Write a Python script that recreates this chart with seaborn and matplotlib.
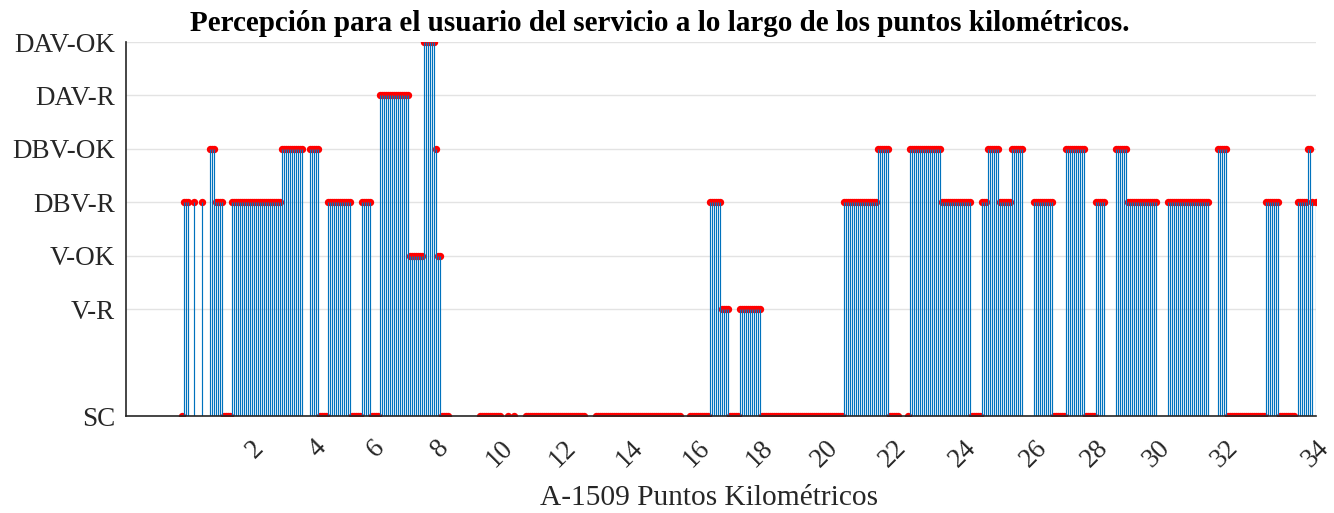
import numpy as np
import pandas as pd
import matplotlib
matplotlib.use('Agg')
import matplotlib.pyplot as plt
import seaborn as sns

# niveles de percepcion (eje y)
level_names = ['SC', 'V-R', 'V-OK', 'DBV-R', 'DBV-OK', 'DAV-R', 'DAV-OK']
level_values = [0, 2, 3, 4, 5, 6, 7]

# secuencia de muestras codificada por tramos: nivel y numero de muestras (nan = sin dato)
run_levels = [0, 4, np.nan, 4, np.nan, 4, np.nan, 5, 4, 0,
              4, 5, np.nan, 5, 0, 4, 0, 4, 0, 6,
              3, 7, 5, 3, 0, np.nan, 0, np.nan, 0, np.nan,
              0, np.nan, 0, np.nan, 0, np.nan, 0, 4, 2, 0,
              2, 0, 4, 5, 0, np.nan, 0, 5, 4, 0,
              4, 5, 4, 5, np.nan, 4, 0, 5, 0, 4,
              np.nan, 5, 4, np.nan, 4, np.nan, 5, 0, 4, 0,
              np.nan, 4, 5, 4, np.nan, 4]
run_counts = [1, 3, 2, 1, 3, 1, 3, 3, 4, 4,
              25, 11, 3, 5, 4, 12, 5, 5, 4, 15,
              7, 6, 1, 2, 4, 15, 11, 3, 1, 2,
              1, 5, 30, 5, 43, 4, 10, 6, 4, 5,
              11, 41, 17, 6, 5, 4, 1, 16, 15, 5,
              3, 6, 6, 6, 5, 10, 6, 10, 5, 5,
              5, 6, 15, 5, 21, 4, 5, 19, 7, 8,
              1, 5, 2, 1, 1, 1]

# posiciones de las etiquetas de PK (en indice de muestra)
pk_tick_pos = [36.5, 68, 97, 129, 159, 190.5, 224, 257.5, 289, 321.5,
               355.5, 390.5, 426, 456.5, 487.5, 521.5, 567]
pk_tick_labels = ['2', '4', '6', '8', '10', '12', '14', '16', '18', '20',
                  '22', '24', '26', '28', '30', '32', '34']

levels = np.repeat(run_levels, run_counts)
df = pd.DataFrame({'muestra': np.arange(len(levels)), 'nivel': levels}).dropna()

sns.set_theme(style='white')
plt.rcParams['font.family'] = ['Liberation Serif', 'DejaVu Serif']

fig = plt.figure(figsize=(13.34, 5.13), dpi=100)
ax = fig.add_axes([126 / 1334, 1 - 416 / 513, 1190 / 1334, 374 / 513])

# lineas de rejilla horizontales
for v in level_values:
    ax.axhline(v, color='#e3e3e3', lw=1, zorder=0)

# marcadores rojos
sns.scatterplot(data=df, x='muestra', y='nivel', ax=ax, color='red', s=28,
                linewidth=0, zorder=2, legend=False)
# tallos
ax.vlines(df['muestra'], 0, df['nivel'], color='#0072BD', lw=0.85, zorder=3)

ax.set_xlim(-28, 567)
ax.set_ylim(0, 7)
ax.set_yticks(level_values)
ax.set_yticklabels(level_names)
ax.set_xticks(pk_tick_pos)
ax.set_xticklabels(pk_tick_labels, rotation=45, ha='center')

ax.tick_params(axis='both', direction='in', length=9, width=0.8, color='#262626',
               labelsize=19.5, labelcolor='#262626')
ax.tick_params(axis='x', pad=14)
ax.tick_params(axis='y', pad=8)
for s in ['top', 'right']:
    ax.spines[s].set_visible(False)
for s in ['left', 'bottom']:
    ax.spines[s].set_color('#262626')
    ax.spines[s].set_linewidth(1.2)
    ax.spines[s].set_zorder(4)

ax.set_xlabel('A-1509 Puntos Kilométricos', fontsize=21.2, color='#262626')
ax.xaxis.set_label_coords(0.4895, -0.185)
ax.set_ylabel('')

fig.text(0.4945, 0.955, 'Percepción para el usuario del servicio a lo largo de los puntos kilométricos.',
         ha='center', va='center', fontsize=21, fontweight='bold', color='black')

fig.savefig('out.png', dpi=100)
